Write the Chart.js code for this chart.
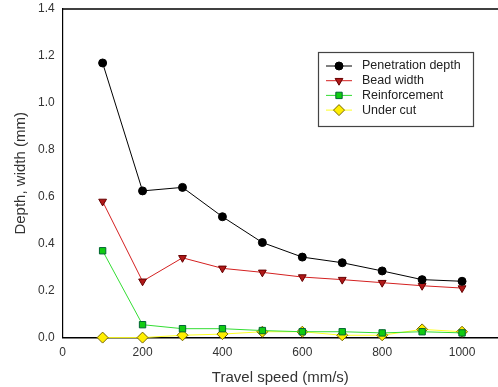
<!DOCTYPE html>
<html>
<head>
<meta charset="utf-8">
<script src="https://cdn.jsdelivr.net/npm/chart.js@4.4.1/dist/chart.umd.min.js"></script>
<style>
  html, body { margin: 0; padding: 0; background: #fff; }
  #wrap { width: 498px; height: 387px; position: relative; }
</style>
</head>
<body>
<div id="wrap"><canvas id="chart"></canvas></div>
<script>
// 数据
const speeds = [100, 200, 300, 400, 500, 600, 700, 800, 900, 1000];
const penetration = [1.17, 0.625, 0.64, 0.515, 0.405, 0.343, 0.319, 0.284, 0.247, 0.24];
const beadWidth = [0.58, 0.24, 0.34, 0.295, 0.278, 0.258, 0.247, 0.234, 0.221, 0.211];
const reinforcement = [0.37, 0.055, 0.038, 0.038, 0.03, 0.025, 0.025, 0.02, 0.025, 0.02];
const underCut = [0, 0, 0.01, 0.015, 0.025, 0.025, 0.01, 0.01, 0.035, 0.025];
const xTicks = [0, 200, 400, 600, 800, 1000];
const yTicks = [0.0, 0.2, 0.4, 0.6, 0.8, 1.0, 1.2, 1.4];

const toPoints = arr => arr.map((v, i) => ({ x: speeds[i], y: v }));
const FONT = '"Liberation Sans", Arial, sans-serif';

// 顶部边框线
const topBorder = {
  id: 'topBorder',
  afterDraw(chart) {
    const { ctx, chartArea } = chart;
    ctx.save();
    ctx.strokeStyle = '#000';
    ctx.lineWidth = 1.5;
    ctx.beginPath();
    ctx.moveTo(chartArea.left, chartArea.top);
    ctx.lineTo(chart.width, chartArea.top);
    ctx.stroke();
    ctx.restore();
  }
};

// 图例 (线 + 标记)
const boxLegend = {
  id: 'boxLegend',
  afterDraw(chart) {
    const ctx = chart.ctx;
    const x0 = 318, y0 = 52, w = 155, h = 74;
    ctx.save();
    ctx.fillStyle = '#fff';
    ctx.fillRect(x0, y0, w, h);
    ctx.strokeStyle = '#444';
    ctx.lineWidth = 1.2;
    ctx.strokeRect(x0 + 0.5, y0 + 0.5, w, h);
    chart.data.datasets.forEach((ds, i) => {
      const y = y0 + 14 + i * 14.7;
      ctx.strokeStyle = ds.borderColor;
      ctx.lineWidth = 1;
      ctx.beginPath();
      ctx.moveTo(x0 + 8, y);
      ctx.lineTo(x0 + 34, y);
      ctx.stroke();
      ctx.fillStyle = ds.pointBackgroundColor;
      ctx.strokeStyle = ds.pointBorderColor;
      ctx.lineWidth = ds.pointBorderWidth;
      Chart.helpers.drawPoint(ctx, {
        pointStyle: ds.pointStyle,
        radius: ds.pointRadius,
        rotation: ds.rotation || 0,
        borderWidth: ds.pointBorderWidth
      }, x0 + 21, y);
      ctx.fillStyle = '#222';
      ctx.font = '12.5px ' + FONT;
      ctx.textBaseline = 'middle';
      ctx.fillText(ds.label, x0 + 44, y);
    });
    ctx.restore();
  }
};

function series(label, data, color, style, fill, border, radius, rotation) {
  return {
    label,
    data: toPoints(data),
    borderColor: color,
    borderWidth: 1,
    pointStyle: style,
    pointBackgroundColor: fill,
    pointBorderColor: border,
    pointBorderWidth: 1,
    pointRadius: radius,
    rotation: rotation || 0,
    tension: 0,
    clip: false
  };
}

const tickFont = { family: FONT, size: 12 };
const titleFont = { family: FONT, size: 15 };

new Chart(document.getElementById('chart'), {
  type: 'line',
  data: {
    datasets: [
      series('Penetration depth', penetration, '#000', 'circle', '#000', '#000', 4),
      series('Bead width', beadWidth, '#d42020', 'triangle', '#b01818', '#600', 4.5, 180),
      series('Reinforcement', reinforcement, '#33dd33', 'rect', '#11cc11', '#063', 4.5),
      series('Under cut', underCut, '#ffff22', 'rectRot', '#ffee00', '#776600', 5.5)
    ]
  },
  options: {
    responsive: true,
    maintainAspectRatio: false,
    animation: false,
    layout: { autoPadding: false, padding: { left: 8, right: 0, top: 9, bottom: 0 } },
    plugins: { legend: { display: false }, tooltip: { enabled: false } },
    scales: {
      x: {
        type: 'linear',
        min: 0,
        max: 1090,
        afterBuildTicks: s => { s.ticks = xTicks.map(v => ({ value: v })); },
        grid: { display: false, drawTicks: false },
        border: { color: '#000', width: 1.5 },
        ticks: { color: '#333', font: tickFont, padding: 8, callback: v => String(v) },
        title: { display: true, text: 'Travel speed (mm/s)', color: '#333',
                 font: titleFont, padding: { top: 1, bottom: 0 } }
      },
      y: {
        min: 0,
        max: 1.4,
        afterBuildTicks: s => { s.ticks = yTicks.map(v => ({ value: v })); },
        afterFit: s => { s.paddingTop = 0; s.paddingBottom = 0; },
        grid: { display: false, drawTicks: false },
        border: { color: '#000', width: 1.2 },
        ticks: { color: '#333', font: tickFont, padding: 8, callback: v => v.toFixed(1) },
        title: { display: true, text: 'Depth, width (mm)', color: '#333',
                 font: titleFont, padding: { top: 4, bottom: 0 } }
      }
    }
  },
  plugins: [topBorder, boxLegend]
});
</script>
</body>
</html>
